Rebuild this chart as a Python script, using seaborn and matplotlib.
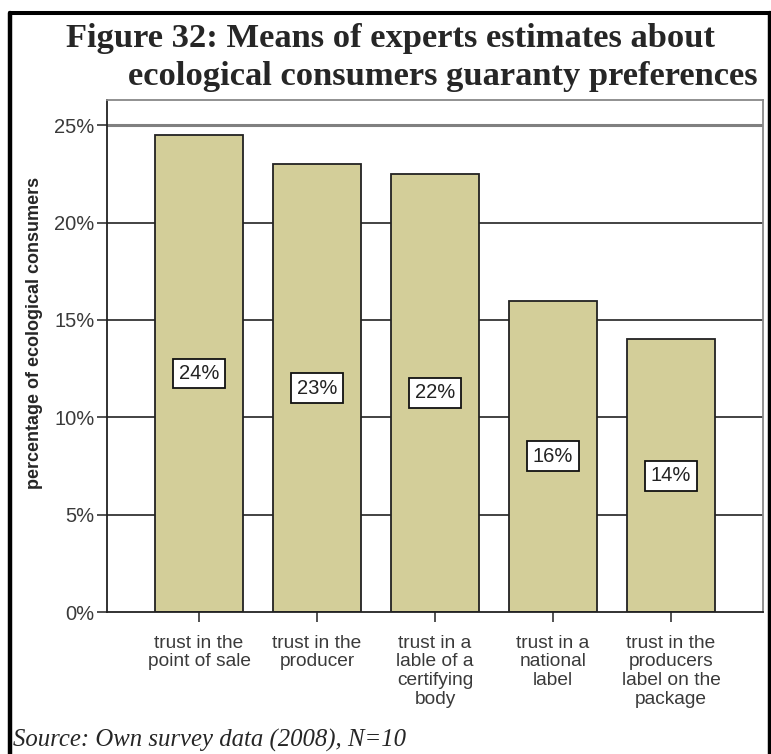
import matplotlib
matplotlib.use("Agg")
import matplotlib.pyplot as plt
from matplotlib.lines import Line2D
import seaborn as sns
import pandas as pd

# data
categories = [
    "trust in the\npoint of sale",
    "trust in the\nproducer",
    "trust in a\nlable of a\ncertifying\nbody",
    "trust in a\nnational\nlabel",
    "trust in the\nproducers\nlabel on the\npackage",
]
values = [24.5, 23.0, 22.5, 16.0, 14.0]
bar_labels = ["24%", "23%", "22%", "16%", "14%"]
y_ticks = [0, 5, 10, 15, 20, 25]

df = pd.DataFrame({"category": categories, "value": values})

sns.set_style("white")
plt.rcParams["font.family"] = ["Liberation Sans", "DejaVu Sans"]

W, H = 771, 754
fig = plt.figure(figsize=(W / 100, H / 100), dpi=100)
ax = fig.add_axes([107 / W, 1 - 612 / H, (763 - 107) / W, (612 - 100) / H])

# grid behind bars
for t in y_ticks[1:]:
    ax.axhline(t, color="#808080" if t == 25 else "#222222",
               lw=2.2 if t == 25 else 1.2, zorder=0)

sns.barplot(data=df, x="category", y="value", color="#D3CE99", width=0.745,
            saturation=1, edgecolor="#222222", linewidth=1.3, ax=ax, zorder=2)

ax.set_ylim(0, 26.3)
ax.set_xlim(-0.78, 4.78)
ax.set_yticks(y_ticks)
ax.set_yticklabels([f"{t}%" for t in y_ticks], fontsize=14.5, color="#3a3a3a")
ax.set_xticks(range(len(categories)))
ax.set_xticklabels(categories, fontsize=13.8, color="#3a3a3a", linespacing=1.12)
ax.tick_params(axis="y", direction="out", length=7, width=1.2, color="#333333", left=True, pad=2)
ax.tick_params(axis="x", direction="out", length=7.5, width=1.2, color="#333333", bottom=True, pad=9)
ax.set_xlabel("")
ax.set_ylabel("percentage of ecological consumers", fontsize=13, fontweight="bold", va="center")
ax.yaxis.set_label_coords((35 - 107) / 656, (612 - 333) / 512)

for i, (v, lab) in enumerate(zip(values, bar_labels)):
    ax.text(i, v / 2, lab, ha="center", va="center", fontsize=14.5, color="#222222", zorder=5,
            bbox=dict(boxstyle="square,pad=0.27", facecolor="white", edgecolor="#111111", lw=1.3))

for side in ["left", "bottom"]:
    ax.spines[side].set_color("#222222")
    ax.spines[side].set_linewidth(1.3)
for side in ["top", "right"]:
    ax.spines[side].set_color("#888888")
    ax.spines[side].set_linewidth(1.3)

fig.text(66 / W, 1 - 47 / H, "Figure 32: Means of experts estimates about",
         fontsize=24.8, fontweight="bold", family="Liberation Serif", va="baseline")
fig.text(758 / W, 1 - 85 / H, "ecological consumers guaranty preferences",
         fontsize=24.8, fontweight="bold", family="Liberation Serif", va="baseline", ha="right")
fig.text(13 / W, 1 - 747 / H, "Source: Own survey data (2008), N=10",
         fontsize=17.8, style="italic", family="Liberation Serif", va="baseline")

# frame around the figure (top, left, right)
fig.add_artist(Line2D([9.5 / W, 770 / W], [1 - 13 / H, 1 - 13 / H], color="black", lw=2.9, transform=fig.transFigure))
fig.add_artist(Line2D([9.5 / W, 9.5 / W], [0, 1 - 13 / H], color="black", lw=3.2, transform=fig.transFigure))
fig.add_artist(Line2D([770 / W, 770 / W], [0, 1 - 13 / H], color="black", lw=3.2, transform=fig.transFigure))

fig.savefig("out.png", dpi=100)
